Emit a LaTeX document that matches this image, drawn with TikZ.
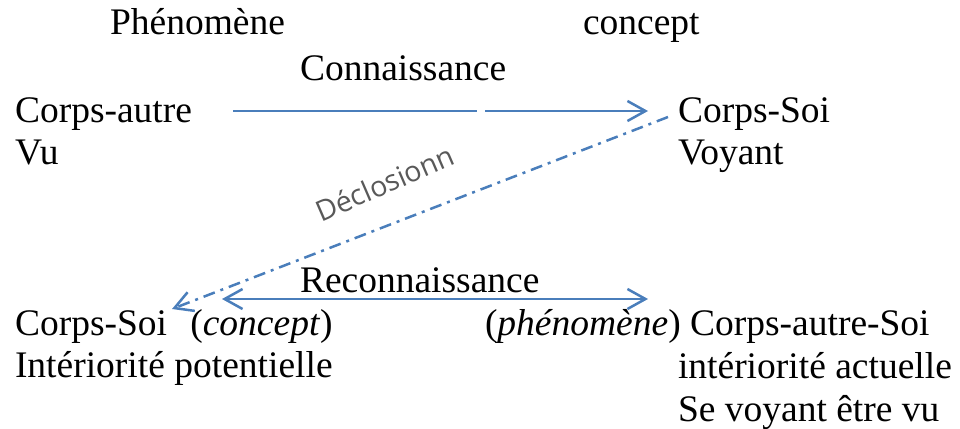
\documentclass[tikz,border=0pt]{standalone}
\usepackage{fontspec}
\setmainfont{Liberation Serif}
\newfontfamily\dfont{Open Sans}
\usetikzlibrary{arrows.meta}
\definecolor{lineblue}{RGB}{74,126,187}
\definecolor{dgray}{RGB}{89,89,89}
\begin{document}
\begin{tikzpicture}[x=1pt,y=-1pt,
  txt/.style={anchor=base west,inner sep=0pt,outer sep=0pt,font=\fontsize{37.5}{42}\selectfont},
  tip/.style={},
  conn/.style={draw=lineblue,line width=2.5pt,-{Straight Barb[length=18pt,width=20pt,line width=2.5pt]}},
  dconn/.style={draw=lineblue,line width=2.5pt,{Straight Barb[length=18pt,width=20pt,line width=2.5pt]}-{Straight Barb[length=18pt,width=20pt,line width=2.5pt]}},
  ddconn/.style={conn,dash pattern=on 12pt off 6pt on 3pt off 6pt}]
\useasboundingbox (0,0) rectangle (960,428);
% top labels
\node[txt] (phen) at (110,35) {Phénomène};
\node[txt] (conc) at (583,35) {concept};
\node[txt] (conn) at (300,80) {Connaissance};
% left top
\node[txt] (ca) at (15,122) {Corps-autre};
\node[txt] (vu) at (15,164) {Vu};
% right top
\node[txt] (cs) at (678,122) {Corps-Soi};
\node[txt] (voy) at (678,164) {Voyant};
% bottom left
\node[txt] (csb) at (15,335) {Corps-Soi\hspace{0.62em}(\textit{concept})};
\node[txt] (intp) at (15,377) {Intériorité potentielle};
% bottom right
\node[txt] (ph) at (485,335) {(\textit{phénomène}) Corps-autre-Soi};
\node[txt] (inta) at (678,378) {intériorité actuelle};
\node[txt] (svv) at (678,421) {Se voyant être vu};
\node[txt] (rec) at (300,292) {Reconnaissance};
% connector endpoints
\coordinate (t1) at (233,111);
\coordinate (t2) at (648,111);
\coordinate (d1) at (668,117);
\coordinate (d2) at (172,309);
\coordinate (b1) at (222,299);
\coordinate (b2) at (648,299);
\draw[conn,dash pattern=on 244pt off 8pt on 300pt] (t1) -- (t2);
\draw[ddconn] (d1) -- (d2);
\draw[dconn] (b1) -- (b2);
\node[anchor=base,inner sep=0pt,rotate=23.4,text=dgray,font=\dfont\fontsize{28.5}{30}\selectfont] (decl) at (389,193) {Déclosionn};
\end{tikzpicture}
\end{document}
